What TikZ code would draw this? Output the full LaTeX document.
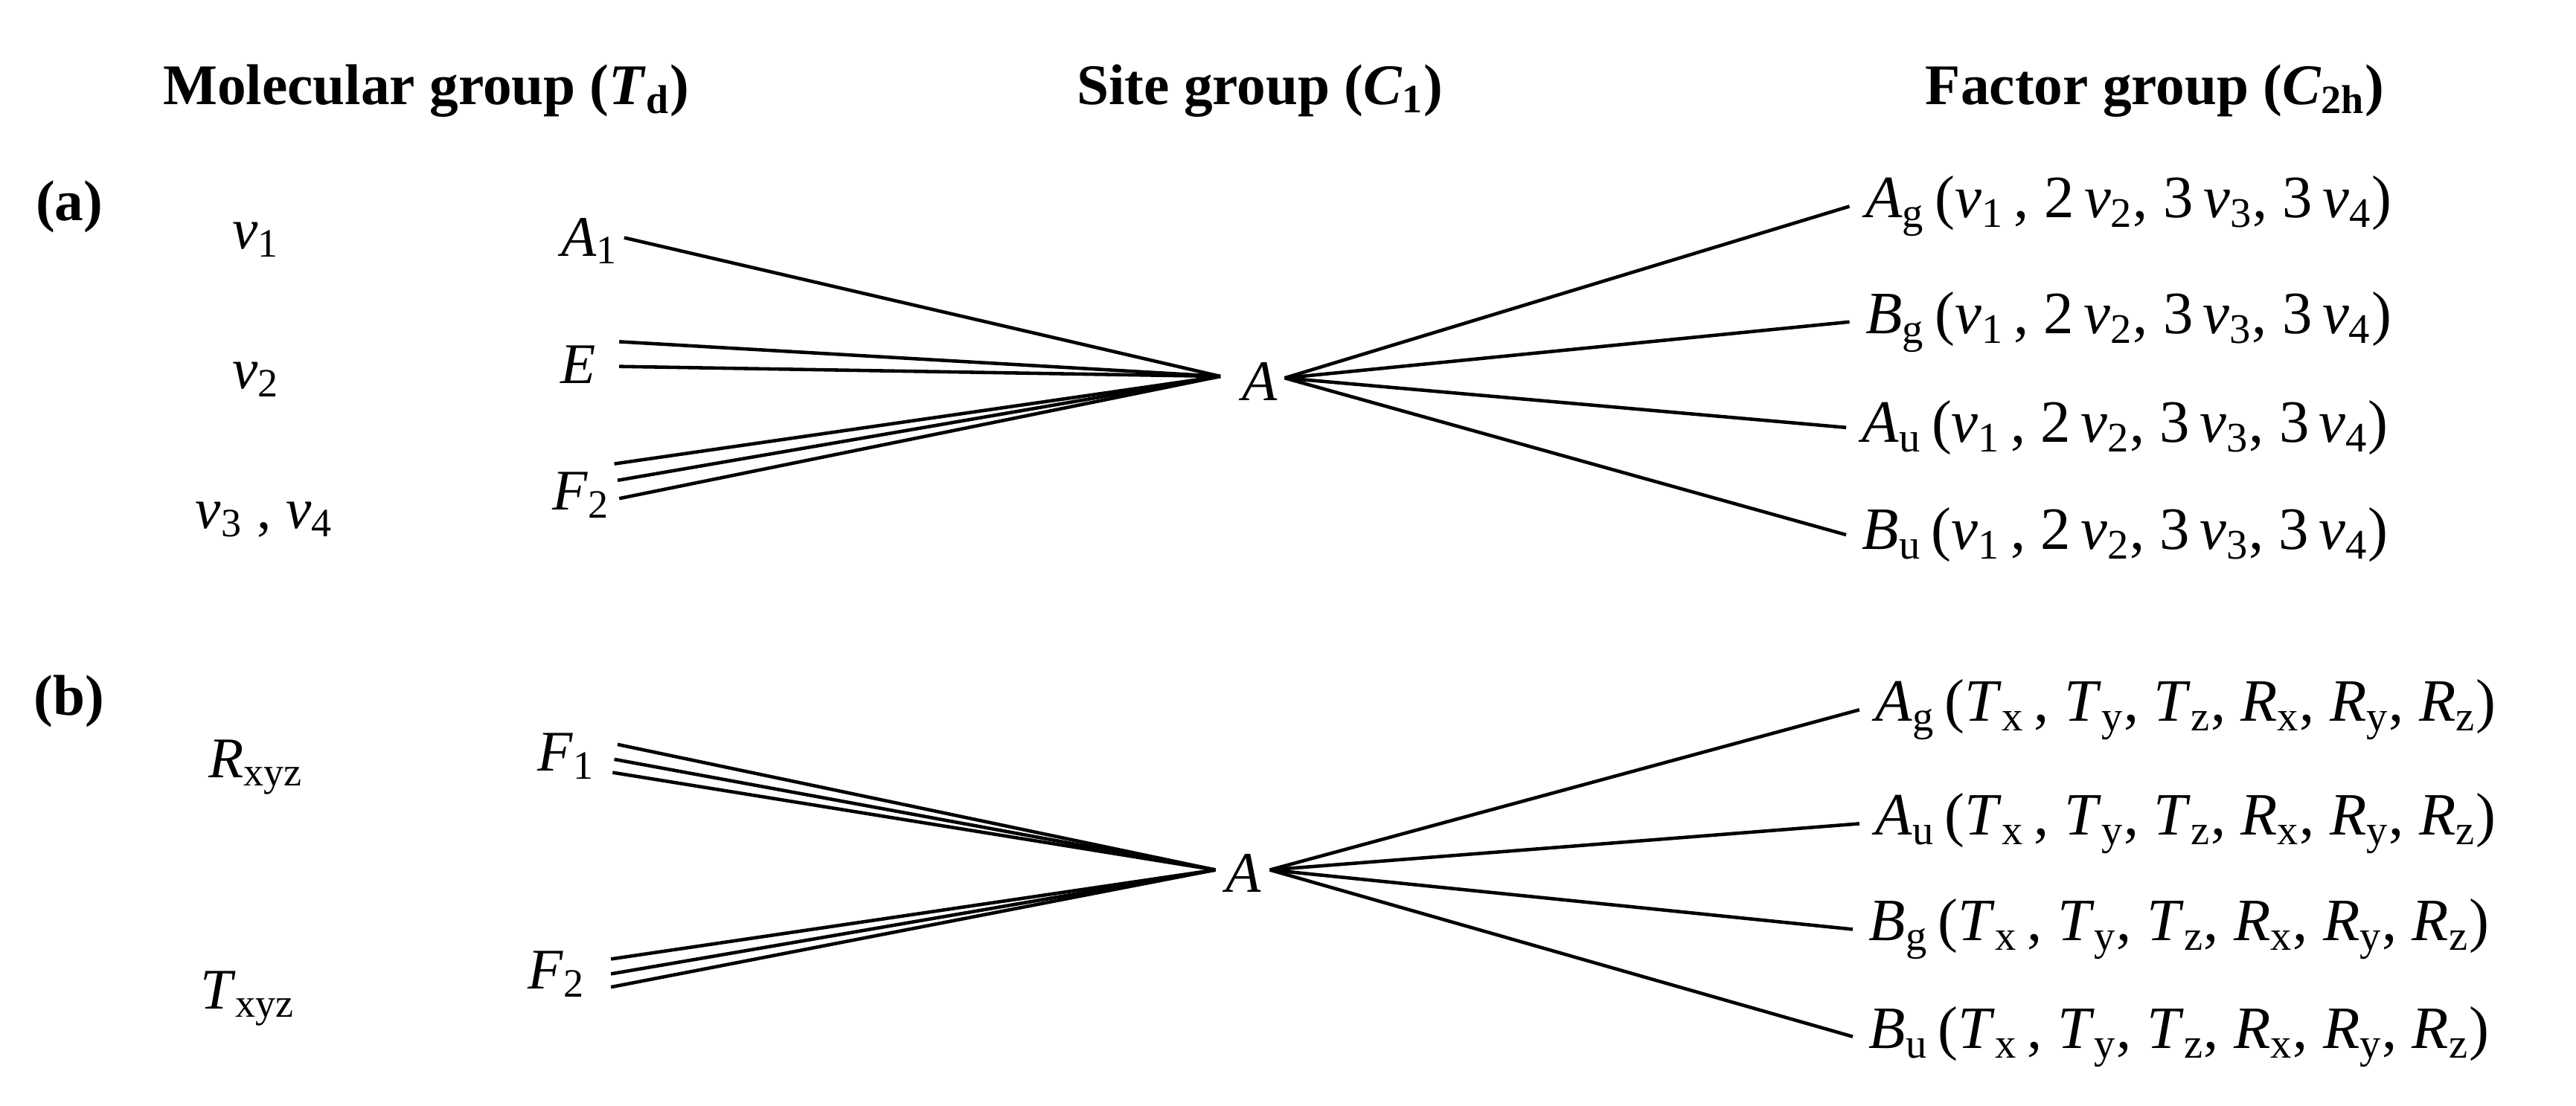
\documentclass[tikz,border=0pt]{standalone}
\usepackage{fontspec}
\setmainfont{Liberation Serif}
\usepackage{tikz}
\newcommand{\nv}[1]{\textit{ν}\textsubscript{#1}}
\newcommand{\sym}[2]{\textit{#1}\textsubscript{#2}}
\newcommand{\modes}{(\nv{1}\,, 2\,\nv{2}, 3\,\nv{3}, 3\,\nv{4})}
\newcommand{\rots}{(\sym{T}{x}\,, \sym{T}{y}, \sym{T}{z}, \sym{R}{x}, \sym{R}{y}, \sym{R}{z})}

\begin{document}
\begin{tikzpicture}[x=0.0222cm,y=-0.0222cm,every node/.style={font=\fontsize{22}{26}\selectfont,inner sep=1pt},
	lbl/.style={anchor=west,inner sep=6pt,font=\fontsize{23}{27}\selectfont}]
	
	\useasboundingbox (0,0) rectangle (1560,670);
	
	\node (hm) at (258,55) {\textbf{Molecular group (\textit{T}\textsubscript{d})}};
	\node (hs) at (763,55) {\textbf{Site group (\textit{C}\textsubscript{1})}};
	\node (hf) at (1305,55) {\textbf{Factor group (\textit{C}\textsubscript{2h})}};
	\node (pa) at (42,125) {\textbf{(a)}};
	\node (pb) at (42,425) {\textbf{(b)}};
	
	\node (n1) at (155,145) {\nv{1}};
	\node (n2) at (155,230) {\nv{2}};
	\node (n34) at (160,315) {\nv{3} , \nv{4}};
	\node (a1) at (357,146) {\sym{A}{1}};
	\node (e) at (350,221) {\textit{E}};
	\node (f2a) at (352,300) {\sym{F}{2}};
	\node (sa) at (763,231) {\textit{A}};
	\coordinate (ca) at (739,228);
	\coordinate (cb) at (778,229);
	
	\node[lbl] (ag) at (1120,125) {\sym{A}{g}\,\modes};
	\node[lbl] (bg) at (1120,195) {\sym{B}{g}\,\modes};
	\node[lbl] (au) at (1118,259) {\sym{A}{u}\,\modes};
	\node[lbl] (bu) at (1118,324) {\sym{B}{u}\,\modes};
	
	\node (rx) at (155,465) {\sym{R}{xyz}};
	\node (tx) at (150,605) {\sym{T}{xyz}};
	\node (f1) at (343,458) {\sym{F}{1}};
	\node (f2b) at (337,590) {\sym{F}{2}};
	\node (sb) at (753,529) {\textit{A}};
	\coordinate (cc) at (736,527);
	\coordinate (cd) at (769,527);
	
	\node[lbl] (ag2) at (1126,430) {\sym{A}{g}\,\rots};
	\node[lbl] (au2) at (1126,499) {\sym{A}{u}\,\rots};
	\node[lbl] (bg2) at (1122,563) {\sym{B}{g}\,\rots};
	\node[lbl] (bu2) at (1122,628) {\sym{B}{u}\,\rots};
	
	\tikzset{every path/.style={line width=1.3pt}}
	
	\path[-] ([shift={(21,-2)}]a1.center) edge (ca);
	\path[-] ([shift={(25,-14)}]e.center) edge (ca);
	\path[-] ([shift={(25,1)}]e.center) edge (ca);
	\path[-] ([shift={(20,-19)}]f2a.center) edge (ca);
	\path[-] ([shift={(22,-9)}]f2a.center) edge (ca);
	\path[-] ([shift={(23,2)}]f2a.center) edge (ca);
	\path[-] (cb) edge (ag.west);
	\path[-] (cb) edge (bg.west);
	\path[-] (cb) edge (au.west);
	\path[-] (cb) edge (bu.west);
	
	\path[-] ([shift={(31,-7)}]f1.center) edge (cc);
	\path[-] ([shift={(29,2)}]f1.center) edge (cc);
	\path[-] ([shift={(28,10)}]f1.center) edge (cc);
	\path[-] ([shift={(33,-9)}]f2b.center) edge (cc);
	\path[-] ([shift={(33,0)}]f2b.center) edge (cc);
	\path[-] ([shift={(33,8)}]f2b.center) edge (cc);
	\path[-] (cd) edge (ag2.west);
	\path[-] (cd) edge (au2.west);
	\path[-] (cd) edge (bg2.west);
	\path[-] (cd) edge (bu2.west);

\end{tikzpicture}
\end{document}
